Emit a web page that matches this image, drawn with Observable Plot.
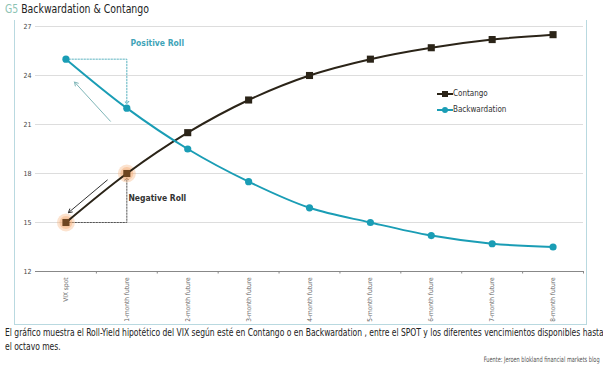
<!DOCTYPE html>
<html><head><meta charset="utf-8">
<script src="https://cdn.jsdelivr.net/npm/d3@7"></script>
<script src="https://cdn.jsdelivr.net/npm/@observablehq/plot@0.6"></script>
<style>
html,body{margin:0;padding:0;background:#fff;width:603px;height:370px;overflow:hidden}
body{font-family:"Liberation Sans Narrow","DejaVu Sans Condensed",sans-serif;font-stretch:condensed;position:relative}
#title{position:absolute;left:5px;top:1px;font-size:13px;color:#222;white-space:nowrap;transform:scaleX(0.8);transform-origin:0 0;font-weight:500}
#title .g{color:#8cc3b3}
#frame{position:absolute;left:14px;top:20px;width:571px;height:304px;border-left:1.5px solid #b9d9e0;border-right:1.5px solid #b9d9e0;border-bottom:1.5px solid #b9d9e0}
#chart{position:absolute;left:0;top:0}
#legend{position:absolute;left:422px;top:66px;font-size:8px;color:#333;line-height:16px}
#legend div{display:flex;align-items:center}
#cap{position:absolute;left:5px;top:326px;width:760px;font-size:10.8px;color:#222;line-height:14px;white-space:nowrap;transform:scaleX(0.782);transform-origin:0 0}
#src{position:absolute;right:3px;top:355px;font-size:7.5px;color:#555;white-space:nowrap;transform:scaleX(0.74);transform-origin:100% 0}
</style></head><body>
<div id="title"><span class="g">G5</span> Backwardation &amp; Contango</div>
<div id="frame"><div id="chart"></div>
<div id="legend">
<div><svg width="16" height="8"><line x1="0" y1="4" x2="16" y2="4" stroke="#2b2418" stroke-width="2"/><rect x="5" y="1" width="6" height="6" fill="#2b2418"/></svg>Contango</div>
<div><svg width="16" height="8"><line x1="0" y1="4" x2="16" y2="4" stroke="#1a9db5" stroke-width="2"/><circle cx="8" cy="4" r="3" fill="#1a9db5"/></svg>Backwardation</div>
</div></div>
<div id="cap">El gráfico muestra el Roll-Yield hipotético del VIX según esté en Contango o en Backwardation , entre el SPOT y los diferentes vencimientos disponibles hasta<br>el octavo mes.</div>
<div id="src">Fuente: Jeroen blokland financial markets blog</div>
<script>
const categories = ["VIX spot","1-month future","2-month future","3-month future","4-month future","5-month future","6-month future","7-month future","8-month future"];
const contango = [15, 18, 20.5, 22.5, 24, 25, 25.7, 26.2, 26.5];
const backwardation = [25, 22, 19.5, 17.5, 15.9, 15, 14.2, 13.7, 13.5];
const yTicks = [12, 15, 18, 21, 24, 27];
const rollLabels = [{x: 1.5, y: 26, text: "Positive Roll", color: "#3fa4b8"}, {x: 1.5, y: 16.5, text: "Negative Roll", color: "#333"}];
const rollArrows = [{x1: 0.73, y1: 21.2, x2: 0.14, y2: 23.6, color: "#7fb6b8"}, {x1: 0.68, y1: 17.6, x2: 0.04, y2: 15.6, color: "#333"}];
const posRollPath = [{x: 0, y: 25}, {x: 1, y: 25}, {x: 1, y: 22.35}];
const negRollPath = [{x: 0, y: 15}, {x: 1, y: 15}, {x: 1, y: 17.65}];

const C = "#2b2418", B = "#1a9db5";
const cData = contango.map((v, i) => ({x: i, y: v}));
const bData = backwardation.map((v, i) => ({x: i, y: v}));
const bounds = d3.range(0.5, categories.length - 0.5 + 1, 1);

const plot = Plot.plot({
  width: 571, height: 304,
  marginTop: 6, marginBottom: 53, marginLeft: 20, marginRight: 3,
  style: {fontFamily: "'Liberation Sans Narrow','DejaVu Sans Condensed',sans-serif", background: "transparent"},
  x: {domain: [-0.5, categories.length - 0.5]},
  y: {domain: [12, 27]},
  marks: [
    Plot.gridY(yTicks.slice(1), {stroke: "#ddd", strokeOpacity: 1, strokeWidth: 1}),
    Plot.axisY(yTicks, {tickSize: 0, tickPadding: 4, fontSize: 7, fill: "#444", label: null}),
    Plot.ruleY([12], {stroke: "#888", strokeWidth: 1}),
    Plot.axisX(bounds, {tickSize: 2.5, tickFormat: () => "", stroke: "#888", label: null}),
    Plot.axisX(d3.range(categories.length), {tickSize: 0, tickPadding: 6, tickRotate: -90, tickFormat: i => categories[i], fontSize: 6.5, fill: "#666", label: null}),
    Plot.line(posRollPath, {x: "x", y: "y", stroke: "#5cb3c0", strokeWidth: 1, strokeDasharray: "1.5,1.5", markerEnd: "arrow"}),
    Plot.line(negRollPath, {x: "x", y: "y", stroke: "#555", strokeWidth: 1, strokeDasharray: "1.5,1.5", markerEnd: "arrow"}),
    Plot.arrow(rollArrows, {x1: "x1", y1: "y1", x2: "x2", y2: "y2", stroke: "color", strokeWidth: 1, headLength: 6}),
    Plot.text(rollLabels, {x: "x", y: "y", text: "text", fill: "color", fontSize: 8.5, fontWeight: "bold"}),
    Plot.dot(cData.slice(0, 2), {x: "x", y: "y", r: 9, fill: "#f7b988", fillOpacity: 0.4}),
    Plot.dot(cData.slice(0, 2), {x: "x", y: "y", r: 6.5, fill: "#f4a66a", fillOpacity: 0.4}),
    Plot.line(cData, {x: "x", y: "y", stroke: C, strokeWidth: 2, curve: "catmull-rom"}),
    Plot.line(bData, {x: "x", y: "y", stroke: B, strokeWidth: 2, curve: "catmull-rom"}),
    Plot.dot(cData, {x: "x", y: "y", symbol: "square", r: 4, fill: (d, i) => i < 2 ? "#6e4520" : C}),
    Plot.dot(bData, {x: "x", y: "y", r: 3.6, fill: B})
  ]
});
document.getElementById("chart").appendChild(plot);
</script>
</body></html>
